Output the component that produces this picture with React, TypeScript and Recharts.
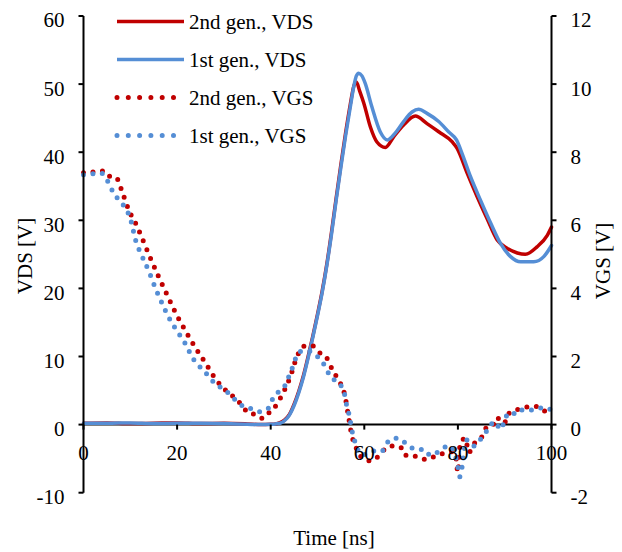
import { LineChart, Line, XAxis, YAxis, ReferenceLine } from "recharts";

const W = 622;
const H = 552;
const FONT = "'Liberation Serif', 'Times New Roman', serif";
const RED = "#C00000";
const BLUE = "#558ED5";

const timeTicks = [0, 20, 40, 60, 80, 100];
const vdsTicks = [-10, 0, 10, 20, 30, 40, 50, 60];
const vgsTicks = [-2, 0, 2, 4, 6, 8, 10, 12];

// [time ns, VDS V]
const vds2nd = [
  [0, 0.2], [5, 0.25], [10, 0.15], [15, 0.2], [20, 0.25], [25, 0.15], [30, 0.2],
  [35, 0.1], [38, 0.0], [40, 0.05], [41, 0.1], [42, 0.3], [43, 0.7], [44, 1.5],
  [45, 3.0], [46, 4.9], [47, 7.2], [48, 10.0], [49, 13.0], [50, 16.2], [51, 19.6],
  [52, 23.6], [53, 28.3], [54, 33.3], [55, 38.2], [56, 42.8], [57, 47.0], [57.8, 49.8],
  [58.3, 50.3], [59.0, 49.0], [59.9, 47.2], [61.3, 43.7], [62.7, 41.5], [64.5, 40.7],
  [66.3, 42.3], [68.4, 44.0], [70.9, 45.3], [73.4, 44.2], [75.9, 43.0], [78.8, 41.5],
  [79.8, 40.6], [82.0, 36.9], [84.1, 33.5], [86.2, 30.3], [88.4, 27.1], [90.5, 25.9],
  [92.7, 25.2], [94.4, 25.0], [96.9, 26.1], [99.1, 27.8], [100, 29.0],
];

const vds1st = [
  [0, 0.2], [5, 0.2], [10, 0.25], [15, 0.15], [20, 0.2], [25, 0.2], [30, 0.15],
  [35, 0.05], [38, 0.0], [40, 0.05], [41, 0.1], [42, 0.2], [43, 0.6], [44, 1.4],
  [45, 2.8], [46, 4.7], [47, 7.0], [48, 9.8], [49, 12.8], [50, 16.0], [51, 19.4],
  [52, 23.4], [53, 28.0], [54, 33.0], [55, 37.8], [56, 42.4], [57, 46.6], [57.8, 49.8],
  [58.3, 51.2], [58.8, 51.6], [59.5, 51.2], [60.2, 50.1], [61.6, 46.7], [63.4, 43.0],
  [64.9, 41.8], [66.6, 42.8], [68.4, 44.5], [70.2, 45.9], [71.6, 46.3], [73.4, 45.7],
  [75.9, 44.5], [78.0, 43.0], [79.7, 41.8], [80.9, 39.8], [82.7, 36.4], [84.8, 33.0],
  [87.0, 29.6], [89.1, 26.6], [91.2, 24.7], [93.4, 23.9], [96.2, 23.9], [98.4, 24.7],
  [100, 26.3],
];

// [time ns, VGS V]
const vgs2nd = [
  [0, 7.4], [2, 7.42], [4.5, 7.45], [5.5, 7.3], [6.9, 7.27], [8.4, 6.78], [9.7, 6.29],
  [11.4, 5.84], [12.9, 5.35], [14.4, 4.86], [16.0, 4.36], [17.7, 3.86], [19.3, 3.39],
  [20.3, 3.12], [22.1, 2.68], [24.0, 2.24], [26.1, 1.8], [28.1, 1.36], [29.6, 1.11],
  [32.0, 0.82], [33.8, 0.58], [35.3, 0.33], [36.7, 0.3], [38.3, 0.18], [39.5, 0.33],
  [40.8, 0.5], [42.6, 0.92], [44.2, 1.41], [45.6, 1.99], [47.4, 2.31], [49.0, 2.31],
  [50.2, 2.14], [52.0, 1.95], [53.4, 1.55], [54.5, 1.31], [55.9, 0.82], [56.6, 0.25],
  [57.4, -0.36], [58.1, -0.63], [59.9, -1.02], [61.3, -1.06], [63.3, -0.89], [64.3, -0.73],
  [65.7, -0.63], [67.8, -0.67], [68.6, -0.9], [70.2, -0.9], [72.0, -1.0], [73.5, -1.02],
  [75.2, -0.92], [77.1, -0.84], [78.8, -0.8], [79.5, -0.9], [80.0, -1.4], [80.5, -0.55],
  [81.6, -0.4], [82.3, -0.82], [83.4, -0.57], [85.5, -0.28], [86.2, -0.06], [87.5, -0.01],
  [88.2, 0.21], [89.9, 0.04], [90.7, 0.31], [93.7, 0.48], [95.4, 0.53], [96.9, 0.53],
  [98.0, 0.43], [99.2, 0.38], [100, 0.48],
];

const vgs1st = [
  [0, 7.34], [1.5, 7.36], [3.7, 7.39], [4.9, 7.21], [6.5, 6.78], [8.5, 6.45], [10.1, 6.01],
  [11.1, 5.43], [12.5, 4.95], [14.1, 4.46], [15.5, 3.96], [17.1, 3.47], [17.9, 3.23],
  [19.5, 2.85], [21.7, 2.39], [23.5, 1.92], [25.8, 1.57], [28.1, 1.21], [30.6, 0.97],
  [32.5, 0.72], [34.2, 0.53], [36.0, 0.46], [37.6, 0.38], [39.5, 0.48], [40.3, 0.72],
  [41.7, 0.97], [43.1, 1.16], [43.8, 1.39], [44.5, 1.62], [45.2, 1.9], [46.2, 2.14],
  [48.1, 2.16], [49.5, 2.05], [51.0, 1.85], [52.7, 1.43], [55.2, 1.1], [55.9, 0.82],
  [56.3, 0.51], [56.9, 0.21], [57.2, -0.06], [57.7, -0.36], [58.3, -0.63], [59.5, -0.89],
  [61.6, -0.8], [62.7, -0.75], [63.8, -0.77], [64.9, -0.53], [66.6, -0.4], [67.9, -0.45],
  [69.5, -0.63], [71.1, -0.73], [72.8, -0.73], [74.1, -0.9], [75.3, -0.84], [76.4, -0.73],
  [78.0, -0.63], [78.9, -0.7], [80.0, -1.25], [80.4, -1.53], [80.9, -1.24], [81.8, -0.45],
  [83.3, -0.63], [84.4, -0.5], [85.7, -0.28], [86.7, -0.08], [87.8, 0.09], [89.2, -0.14],
  [90.0, 0.14], [90.9, 0.35], [92.7, 0.31], [93.7, 0.43], [96.1, 0.43], [98.2, 0.5],
  [100, 0.43],
];

const series = [
  { name: "2nd gen., VDS", color: RED, axis: "vds", dotted: false, pairs: vds2nd },
  { name: "1st gen., VDS", color: BLUE, axis: "vds", dotted: false, pairs: vds1st },
  { name: "2nd gen., VGS", color: RED, axis: "vgs", dotted: true, pairs: vgs2nd },
  { name: "1st gen., VGS", color: BLUE, axis: "vgs", dotted: true, pairs: vgs1st },
];

// layout
const PLOT_TOP = 16;
const X_AXIS_H = 59.3;
const LEFT_W = 83.5;
const RIGHT_W = 70.5;
const PLOT_H = H - PLOT_TOP - X_AXIS_H;
const ZERO_Y = PLOT_TOP + (PLOT_H * 60) / 70;

function TimeTick(props: any) {
  const { x, payload } = props;
  return (
    <g>
      <line x1={x} x2={x} y1={ZERO_Y} y2={ZERO_Y + 5} stroke="#000" strokeWidth={2} />
      <text
        x={x}
        y={ZERO_Y + 35}
        textAnchor="middle"
        fill="#000"
        fontSize={21}
        fontFamily={FONT}
      >
        {payload.value}
      </text>
    </g>
  );
}

const axisStyle = {
  axisLine: { stroke: "#000", strokeWidth: 2 },
  tickLine: { stroke: "#000", strokeWidth: 2 },
  tickSize: 5,
  tickMargin: 14,
  tick: { fill: "#000", fontSize: 21, fontFamily: FONT, dy: 4 },
};

export default function App() {
  return (
    <div
      style={{
        position: "absolute",
        left: 0,
        top: 0,
        width: W,
        height: H,
        background: "#fff",
      }}
    >
      <LineChart
        width={W}
        height={H}
        margin={{ top: PLOT_TOP, right: 0, bottom: 0, left: 0 }}
      >
        <XAxis
          type="number"
          dataKey="t"
          domain={[0, 100]}
          ticks={timeTicks}
          height={X_AXIS_H}
          axisLine={false}
          tickLine={false}
          tick={<TimeTick />}
          interval={0}
        />
        <YAxis
          yAxisId="vds"
          orientation="left"
          domain={[-10, 60]}
          ticks={vdsTicks}
          width={LEFT_W}
          interval={0}
          {...axisStyle}
        />
        <YAxis
          yAxisId="vgs"
          orientation="right"
          domain={[-2, 12]}
          ticks={vgsTicks}
          width={RIGHT_W}
          interval={0}
          {...axisStyle}
        />
        <ReferenceLine yAxisId="vds" y={0} stroke="#000" strokeWidth={2} />
        {series.map((s) => (
          <Line
            key={s.name}
            name={s.name}
            yAxisId={s.axis}
            data={s.pairs.map(([t, v]) => ({ t, v }))}
            dataKey="v"
            type="monotone"
            stroke={s.color}
            strokeWidth={s.dotted ? 5 : 3.5}
            strokeDasharray={s.dotted ? "0 9.5" : undefined}
            strokeLinecap="round"
            dot={false}
            activeDot={false}
            isAnimationActive={false}
          />
        ))}
      </LineChart>
      <svg
        width={W}
        height={H}
        style={{ position: "absolute", left: 0, top: 0, pointerEvents: "none" }}
        fontFamily={FONT}
        fontSize={21}
        fill="#000"
      >
        {series.map((s, i) => {
          const y = 21.5 + i * 38;
          return (
            <g key={s.name}>
              <line
                x1={117}
                x2={184}
                y1={y}
                y2={y}
                stroke={s.color}
                strokeWidth={s.dotted ? 5 : 3.5}
                strokeDasharray={s.dotted ? "0 11.3" : undefined}
                strokeLinecap={s.dotted ? "round" : "butt"}
              />
              <text x={189} y={y + 7}>
                {s.name}
              </text>
            </g>
          );
        })}
        <text
          transform={`translate(25, 256) rotate(-90)`}
          textAnchor="middle"
          dominantBaseline="central"
        >
          VDS [V]
        </text>
        <text
          transform={`translate(603, 261) rotate(-90)`}
          textAnchor="middle"
          dominantBaseline="central"
        >
          VGS [V]
        </text>
        <text x={334} y={545} textAnchor="middle">
          Time [ns]
        </text>
      </svg>
    </div>
  );
}
